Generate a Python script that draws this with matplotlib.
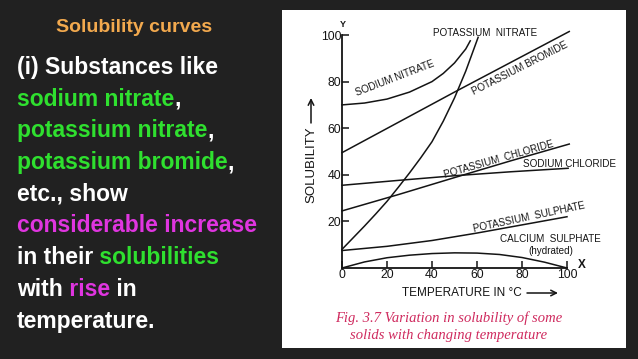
import matplotlib.pyplot as plt
from matplotlib.patches import Rectangle
from matplotlib.text import Annotation

# ---------- curve data (temperature in C, solubility) ----------
nano3_t = [0, 10, 20, 30, 40, 45, 50, 55, 57]
nano3_s = [70, 70.8, 72.5, 75.5, 80, 83.5, 88, 94, 97.5]

kno3_t = [0, 5, 10, 15, 20, 25, 30, 35, 40, 45, 50, 55, 60.5]
kno3_s = [8, 13, 18, 23.2, 28.6, 34.6, 40.8, 47.3, 54.2, 63, 73, 84.5, 99]

kbr_t = [0, 50, 101]
kbr_s = [49.5, 75.5, 101.5]

kcl_t = [0, 25, 50, 75, 101]
kcl_s = [24.5, 31.5, 38.8, 46, 53.2]

nacl_t = [0, 25, 50, 75, 100.5]
nacl_s = [35.5, 37.6, 39.6, 41.3, 42.8]

k2so4_t = [0, 20, 40, 60, 80, 100]
k2so4_s = [7.5, 9.3, 11.8, 15, 18.5, 22]

caso4_t = [0, 10, 20, 30, 40, 50, 60, 70, 80, 90, 100]
caso4_s = [0, 2.6, 4.4, 5.5, 6.2, 6.5, 6.4, 5.8, 4.5, 2.5, 0]

x_ticks = [0, 20, 40, 60, 80, 100]
y_ticks = [20, 40, 60, 80, 100]

# slide text, line by line, as (text, colour) pieces
WHITE = "white"
GREEN = "#2fe02f"
PINK = "#e035e0"
slide_lines = [
    [("(i) Substances like", WHITE)],
    [("sodium nitrate", GREEN), (",", WHITE)],
    [("potassium nitrate", GREEN), (",", WHITE)],
    [("potassium bromide", GREEN), (",", WHITE)],
    [("etc., show", WHITE)],
    [("considerable increase", PINK)],
    [("in their", WHITE), (" solubilities", GREEN)],
    [("with", WHITE), (" rise", PINK), (" in", WHITE)],
    [("temperature.", WHITE)],
]

W, H = 638, 359
fig = plt.figure(figsize=(W / 100, H / 100), dpi=100, facecolor="#212121")

def fx(px):
    return px / W

def fy(py):
    return 1 - py / H

# white picture panel on the right
panel = Rectangle((fx(282), fy(348)), fx(626) - fx(282), fy(10) - fy(348),
                  transform=fig.transFigure, facecolor="white", edgecolor="none", zorder=-5)
fig.add_artist(panel)

# ---------- left hand text ----------
fig.text(fx(134.5), fy(32.3), "Solubility curves", color="#f2a94e", fontsize=14,
         fontweight="bold", family="Liberation Sans", ha="center", va="baseline")

for i, pieces in enumerate(slide_lines):
    kw = dict(fontsize=16.5, fontweight="bold", family="Liberation Sans")
    txt, col = pieces[0]
    prev = fig.text(fx(17), fy(74 + i * 31.7), txt, color=col, ha="left", va="baseline", **kw)
    for txt, col in pieces[1:]:
        # chain the next piece onto the right edge of the previous one
        prev = fig.add_artist(Annotation(txt, xy=(1, 0), xycoords=prev, color=col,
                                         ha="left", va="bottom", **kw))

# ---------- the chart ----------
lc = "#141414"
ax = fig.add_axes([fx(342), fy(268), fx(567) - fx(342), fy(35) - fy(268)], zorder=2)
ax.set_facecolor("none")
ax.set_xlim(0, 100)
ax.set_ylim(0, 100)
for s in ["top", "right"]:
    ax.spines[s].set_visible(False)
for s in ["left", "bottom"]:
    ax.spines[s].set_linewidth(1.3)
    ax.spines[s].set_color(lc)

for t, s in [(nano3_t, nano3_s), (kno3_t, kno3_s), (kbr_t, kbr_s), (kcl_t, kcl_s),
             (nacl_t, nacl_s), (k2so4_t, k2so4_s), (caso4_t, caso4_s)]:
    ax.plot(t, s, color=lc, lw=1.1, clip_on=False)

ax.set_xticks(x_ticks)
ax.set_yticks(y_ticks)
ax.tick_params(direction="in", length=5, width=1.1, color=lc, labelsize=8.8, pad=1)
ax.tick_params(axis="y", pad=0.5)
for lab in ax.get_xticklabels() + ax.get_yticklabels():
    lab.set_family("Liberation Sans")
    lab.set_color(lc)

lab_kw = dict(fontsize=7.1, family="Liberation Sans", color=lc, ha="center",
              va="center", rotation_mode="anchor")
ax.text(63.6, 100.9, "POTASSIUM  NITRATE", **lab_kw)
ax.text(23.6, 81.5, "SODIUM NITRATE", rotation=21, **lab_kw)
ax.text(79, 85.8, "POTASSIUM BROMIDE", rotation=27, **lab_kw)
ax.text(69.8, 46.4, "POTASSIUM  CHLORIDE", rotation=16, **lab_kw)
ax.text(101, 44.6, "SODIUM CHLORIDE", **lab_kw)
ax.text(83, 21.9, "POTASSIUM  SULPHATE", rotation=12, **lab_kw)
ax.text(92.4, 12.4, "CALCIUM  SULPHATE", **lab_kw)
ax.text(92.9, 7.3, "(hydrated)", **lab_kw)
ax.text(0.5, 104.3, "Y", fontsize=6.5, fontweight="bold", family="Liberation Sans",
        color=lc, ha="center", va="center")
ax.text(106.7, 1.3, "X", fontsize=8.5, fontweight="bold", family="Liberation Sans",
        color=lc, ha="center", va="center")

# axis titles with their long arrows
fig.text(fx(402), fy(293), "TEMPERATURE IN °C", fontsize=8.5, family="Liberation Sans",
         color=lc, ha="left", va="center")
fig.add_artist(Annotation("", xy=(fx(558), fy(293)), xytext=(fx(527), fy(293)),
                          xycoords="figure fraction", textcoords="figure fraction",
                          arrowprops=dict(arrowstyle="->", color=lc, lw=1.1,
                                          shrinkA=0, shrinkB=0)))
fig.text(fx(311), fy(164.5), "SOLUBILITY", fontsize=9.5, rotation=90,
         family="Liberation Sans", color=lc, ha="center", va="center")
fig.add_artist(Annotation("", xy=(fx(311), fy(98)), xytext=(fx(311), fy(123)),
                          xycoords="figure fraction", textcoords="figure fraction",
                          arrowprops=dict(arrowstyle="->", color=lc, lw=1.1,
                                          shrinkA=0, shrinkB=0)))

cap_kw = dict(fontsize=10.5, family="Liberation Serif", style="italic", color="#cf2a5e",
              ha="center", va="center")
fig.text(fx(449), fy(318), "Fig. 3.7 Variation in solubility of some", **cap_kw)
fig.text(fx(449), fy(336), "solids with changing temperature", **cap_kw)

fig.savefig("out.png", dpi=100, facecolor=fig.get_facecolor())
